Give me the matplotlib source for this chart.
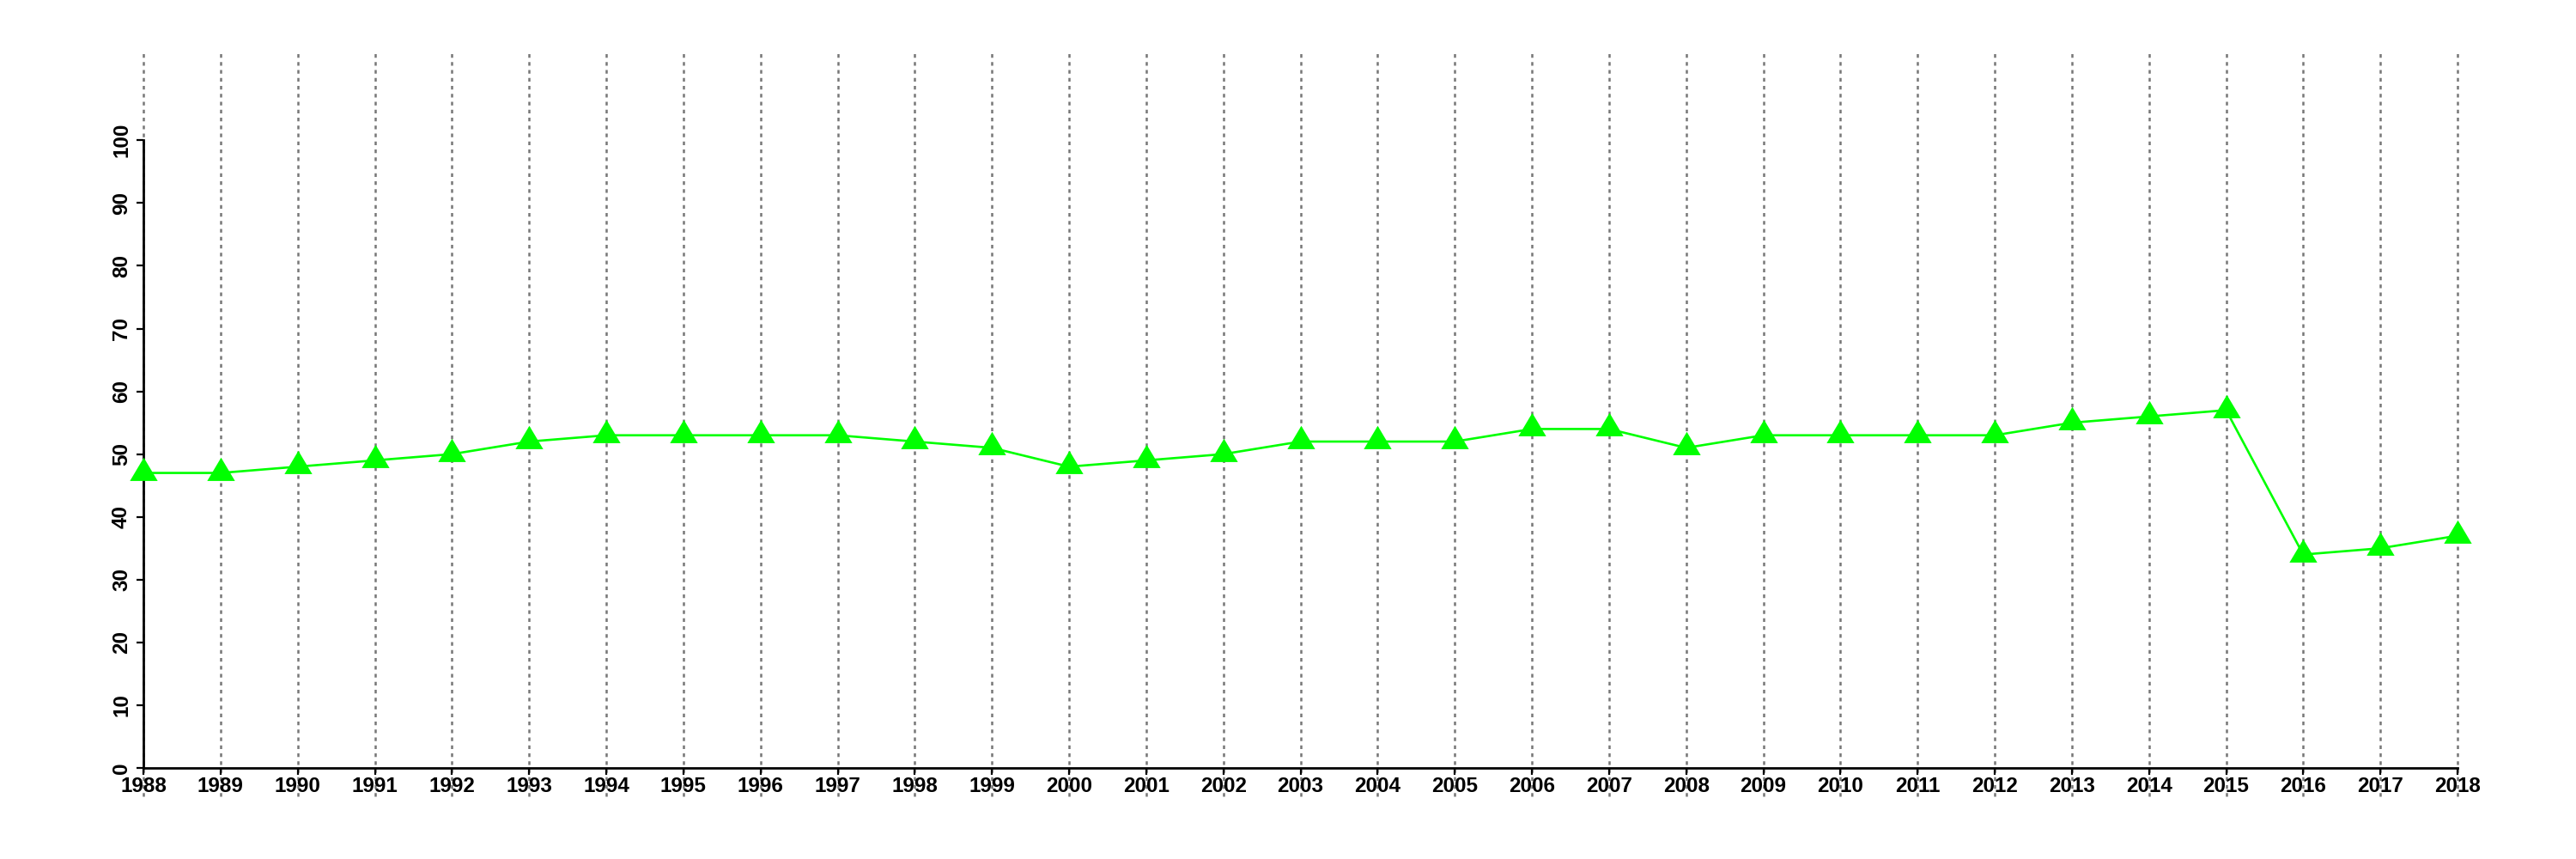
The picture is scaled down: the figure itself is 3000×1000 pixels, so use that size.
import matplotlib
matplotlib.use("Agg")
import matplotlib.pyplot as plt

years = list(range(1988, 2019))
values = [47, 47, 48, 49, 50, 52, 53, 53, 53, 53, 52, 51, 48, 49, 50, 52, 52, 52,
          54, 54, 51, 53, 53, 53, 53, 55, 56, 57, 34, 35, 37]
yticks = [0, 10, 20, 30, 40, 50, 60, 70, 80, 90, 100]

plt.rcParams['font.family'] = ['Liberation Sans', 'DejaVu Sans']
plt.rcParams['font.weight'] = 'bold'

fig = plt.figure(figsize=(30, 10), dpi=100)
ax = fig.add_axes([167/3000, 0.106, (2862-167)/3000, 0.94-0.106])

ymax = (894 - 60) / 7.307
ax.set_xlim(1988, 2018)
ax.set_ylim(0, ymax)

# vertical dotted guide lines
ax.vlines(years, -4.5, ymax, colors='#777777', linewidth=1.8,
          linestyles=(0, (1.7, 2.0)), clip_on=False, zorder=1)

tri = [(-1, -0.52), (1, -0.52), (0, 1.16)]
ax.plot(years, values, color='#00ff00', linewidth=1.9, marker=tri,
        markersize=27, markerfacecolor='#00ff00', markeredgewidth=0,
        zorder=3, clip_on=False)

for s in ['top', 'right']:
    ax.spines[s].set_visible(False)
ax.spines['left'].set_bounds(0, 100)
ax.spines['bottom'].set_bounds(1988, 2018)
for s in ['left', 'bottom']:
    ax.spines[s].set_linewidth(2.0)
    ax.spines[s].set_zorder(2)

ax.set_xticks(years)
ax.set_xticklabels([str(y) for y in years], fontsize=17.5, fontweight='bold')
ax.set_yticks(yticks)
ax.set_yticklabels([str(v) for v in yticks], fontsize=17.5, fontweight='bold',
                   rotation=90, va='center', ha='right')
ax.tick_params(axis='x', length=6, width=1.6, pad=1)
ax.tick_params(axis='y', length=6, width=1.6, pad=4)

fig.savefig('out.png', dpi=100)
